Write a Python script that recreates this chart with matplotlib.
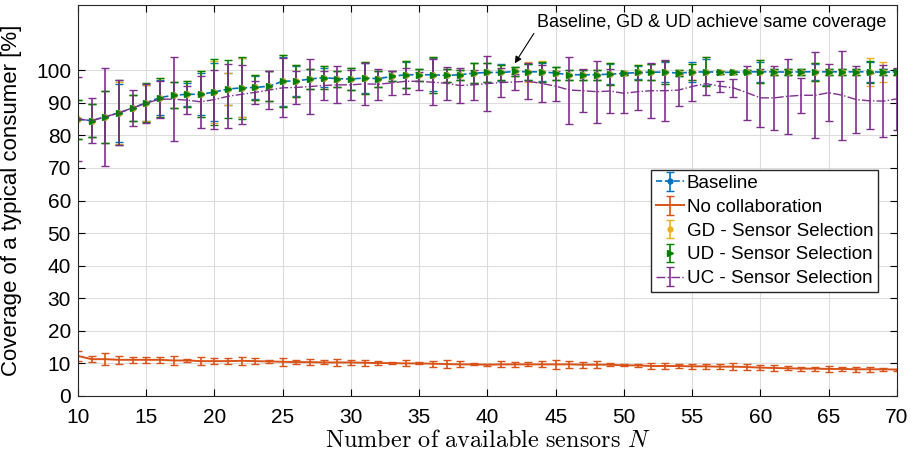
import matplotlib
matplotlib.use("Agg")
import matplotlib.pyplot as plt
import numpy as np

'''
Coverage of a typical consumer vs number of available sensors
'''

plt.rcParams['font.family'] = ['Liberation Sans', 'DejaVu Sans']
plt.rcParams['mathtext.fontset'] = 'cm'

n_sensors = np.arange(10, 71)

baseline_mean = [85.0, 84.5, 85.7, 86.9, 88.4, 90.0, 91.6, 92.3, 92.6, 92.6,
                 93.3, 94.2, 94.6, 94.7, 95.1, 96.6, 96.7, 97.3, 97.7, 97.4,
                 97.3, 97.6, 97.4, 98.1, 98.6, 98.6, 98.6, 98.4, 98.6, 99.1,
                 99.3, 99.3, 99.6, 99.5, 99.5, 99.1, 98.6, 98.6, 98.6, 98.8,
                 99.0, 99.3, 99.4, 99.4, 99.1, 99.4, 99.5, 99.4, 99.3, 99.5,
                 99.5, 99.5, 99.4, 99.5, 99.5, 99.5, 99.5, 99.5, 99.5, 99.4,
                 99.5]
baseline_err = [6.0, 5.0, 8.0, 9.0, 4.0, 5.5, 5.5, 4.0, 3.5, 6.5,
                9.0, 5.0, 9.0, 3.5, 4.5, 7.5, 4.5, 3.0, 3.0, 2.5,
                3.5, 4.5, 2.5, 1.5, 4.0, 1.8, 5.0, 2.0, 1.5, 3.0,
                3.0, 2.5, 1.5, 2.5, 2.8, 2.0, 1.5, 1.5, 1.5, 3.0,
                0.5, 2.0, 2.5, 3.0, 1.0, 3.0, 4.0, 0.5, 0.5, 0.5,
                3.0, 1.0, 1.0, 1.0, 2.5, 1.0, 1.0, 1.0, 3.0, 1.0,
                1.0]

nocol_mean = [12.3, 11.3, 11.3, 11.1, 11.1, 11.1, 11.1, 10.9, 10.9, 10.7,
              10.7, 10.7, 10.8, 10.7, 10.6, 10.5, 10.4, 10.4, 10.3, 10.3,
              10.3, 10.2, 10.1, 10.1, 10.0, 10.0, 9.9, 9.8, 9.7, 9.7,
              9.6, 9.7, 9.7, 9.7, 9.7, 9.7, 9.7, 9.6, 9.6, 9.6,
              9.4, 9.4, 9.2, 9.2, 9.2, 9.1, 9.1, 9.0, 9.0, 8.9,
              8.7, 8.6, 8.5, 8.4, 8.4, 8.3, 8.3, 8.2, 8.2, 8.2,
              8.1]
nocol_err = [1.5, 0.9, 1.8, 1.3, 0.9, 0.9, 1.0, 1.3, 0.5, 1.3,
             1.0, 1.0, 1.3, 0.9, 0.6, 1.2, 0.6, 0.9, 0.6, 1.2,
             0.9, 0.9, 0.6, 0.3, 0.9, 0.3, 0.9, 1.2, 0.9, 0.3,
             0.3, 0.9, 0.7, 0.6, 0.9, 1.4, 1.1, 0.9, 1.1, 0.4,
             0.3, 0.5, 0.8, 0.8, 0.6, 0.7, 0.8, 0.8, 1.0, 1.0,
             0.8, 0.8, 0.6, 0.6, 0.6, 0.8, 0.6, 0.8, 0.8, 0.5,
             0.3]

gd_mean = list(baseline_mean)
gd_err = [6.0, 5.0, 8.0, 9.5, 4.0, 5.5, 6.0, 4.0, 4.0, 7.0,
          9.5, 5.0, 9.0, 3.7, 4.5, 8.0, 5.0, 3.0, 3.5, 2.5,
          3.5, 4.8, 2.5, 1.5, 4.2, 1.8, 5.5, 2.0, 1.5, 3.0,
          3.0, 2.2, 1.5, 3.0, 3.2, 2.0, 1.5, 1.5, 1.5, 3.3,
          0.5, 2.2, 2.5, 3.5, 1.0, 2.5, 4.5, 0.5, 0.5, 0.5,
          3.5, 1.0, 1.0, 1.0, 2.8, 1.0, 1.0, 1.0, 4.3, 3.1,
          1.0]

ud_mean = list(baseline_mean)
ud_err = [6.0, 5.0, 8.0, 10.0, 4.0, 6.0, 6.0, 4.0, 4.0, 7.0,
          10.0, 9.0, 9.5, 3.7, 4.7, 8.0, 5.0, 3.0, 3.5, 2.5,
          3.5, 4.8, 2.5, 1.5, 4.2, 1.8, 5.5, 2.0, 1.5, 3.0,
          3.0, 2.2, 1.5, 2.5, 3.0, 2.0, 1.5, 1.5, 1.5, 3.3,
          0.5, 2.2, 2.5, 3.5, 1.0, 2.5, 4.5, 0.5, 0.5, 0.5,
          3.5, 1.0, 1.0, 1.0, 2.8, 1.0, 1.0, 1.0, 3.4, 1.0,
          1.0]

uc_mean = [85.0, 84.5, 85.7, 86.9, 88.4, 89.9, 91.1, 91.1, 90.8, 90.3,
           91.0, 92.0, 92.6, 93.2, 93.9, 94.6, 94.7, 95.0, 95.3, 95.5,
           95.5, 95.8, 95.7, 96.1, 96.6, 96.6, 96.3, 96.0, 95.3, 95.5,
           95.9, 96.2, 96.4, 96.6, 95.9, 95.1, 93.9, 93.7, 93.4, 93.6,
           92.9, 93.4, 93.7, 93.7, 93.9, 95.0, 95.9, 95.1, 94.6, 93.1,
           91.5, 91.5, 92.0, 92.3, 92.3, 93.1, 92.3, 91.0, 90.6, 90.5,
           91.2]
uc_err = [13.0, 7.0, 15.0, 10.0, 5.5, 6.0, 5.7, 12.8, 4.2, 8.0,
          9.2, 9.8, 9.0, 3.5, 5.8, 9.0, 5.0, 8.3, 4.5, 5.7,
          4.5, 6.5, 4.8, 3.8, 4.0, 2.7, 7.0, 5.0, 5.4, 4.5,
          8.5, 4.5, 2.5, 5.5, 5.8, 4.7, 10.3, 6.6, 9.5, 6.8,
          6.0, 5.6, 8.5, 9.4, 4.8, 4.5, 3.5, 1.7, 2.7, 8.3,
          9.0, 9.9, 11.5, 5.3, 13.2, 8.8, 13.7, 10.4, 8.6, 11.0,
          9.6]

fig = plt.figure(figsize=(9.14, 4.57), dpi=100)
ax = fig.add_axes([0.0853, 0.1335, 0.8961, 0.8555])

ax.errorbar(n_sensors, baseline_mean, yerr=baseline_err, color='#0072BD',
            linestyle='--', marker='o', markersize=3.5, linewidth=1.2,
            elinewidth=1.2, capsize=3, label='Baseline')
ax.errorbar(n_sensors, nocol_mean, yerr=nocol_err, color='#D95319',
            linestyle='-', linewidth=1.4, elinewidth=1.2, capsize=3,
            label='No collaboration')
ax.errorbar(n_sensors, gd_mean, yerr=gd_err, color='#EDB120',
            linestyle='none', marker='o', markersize=3.5, elinewidth=1.2,
            capsize=3, label='GD - Sensor Selection')
ax.errorbar(n_sensors, ud_mean, yerr=ud_err, color='#008000',
            linestyle='none', marker='>', markersize=4.5, elinewidth=1.2,
            capsize=3, label='UD - Sensor Selection')
ax.errorbar(n_sensors, uc_mean, yerr=uc_err, color='#7E2F8E',
            linestyle='-.', linewidth=1.0, elinewidth=1.2, capsize=3,
            label='UC - Sensor Selection')

ax.annotate('Baseline, GD & UD achieve same coverage', xy=(42.0, 102.1),
            xytext=(43.6, 114.7), fontsize=13, va='center', ha='left',
            arrowprops=dict(arrowstyle='-|>', color='black', lw=0.8,
                            mutation_scale=10, shrinkA=0, shrinkB=0,
                            relpos=(0.0, 0.1)))

ax.set_xlim(10, 70)
ax.set_ylim(0, 120)
ax.set_xticks(np.arange(10, 71, 5))
ax.set_yticks(np.arange(0, 101, 10))
ax.tick_params(direction='in', top=True, right=True, labelsize=15,
               length=5, width=0.8)
ax.tick_params(axis='x', pad=9)
ax.tick_params(axis='y', pad=5)
ax.grid(True, color='#dcdcdc', linewidth=0.8)
ax.set_axisbelow(True)
for s in ax.spines.values():
    s.set_linewidth(0.8)
    s.set_color('#262626')

ax.set_xlabel(r'$\mathrm{Number\ of\ available\ sensors}\ N$', fontsize=17.5)
ax.xaxis.set_label_coords(0.5, -0.088)
ax.set_ylabel('Coverage of a typical consumer [%]', fontsize=16)
ax.yaxis.set_label_coords(-0.068, 0.5)

ax.legend(loc='upper right', bbox_to_anchor=(0.977, 0.578), borderaxespad=0,
          fontsize=13.5, fancybox=False, framealpha=1, edgecolor='#262626',
          handlelength=1.5, handletextpad=0.15, labelspacing=0.36,
          borderpad=0.25)

fig.savefig('out.png', dpi=100)
